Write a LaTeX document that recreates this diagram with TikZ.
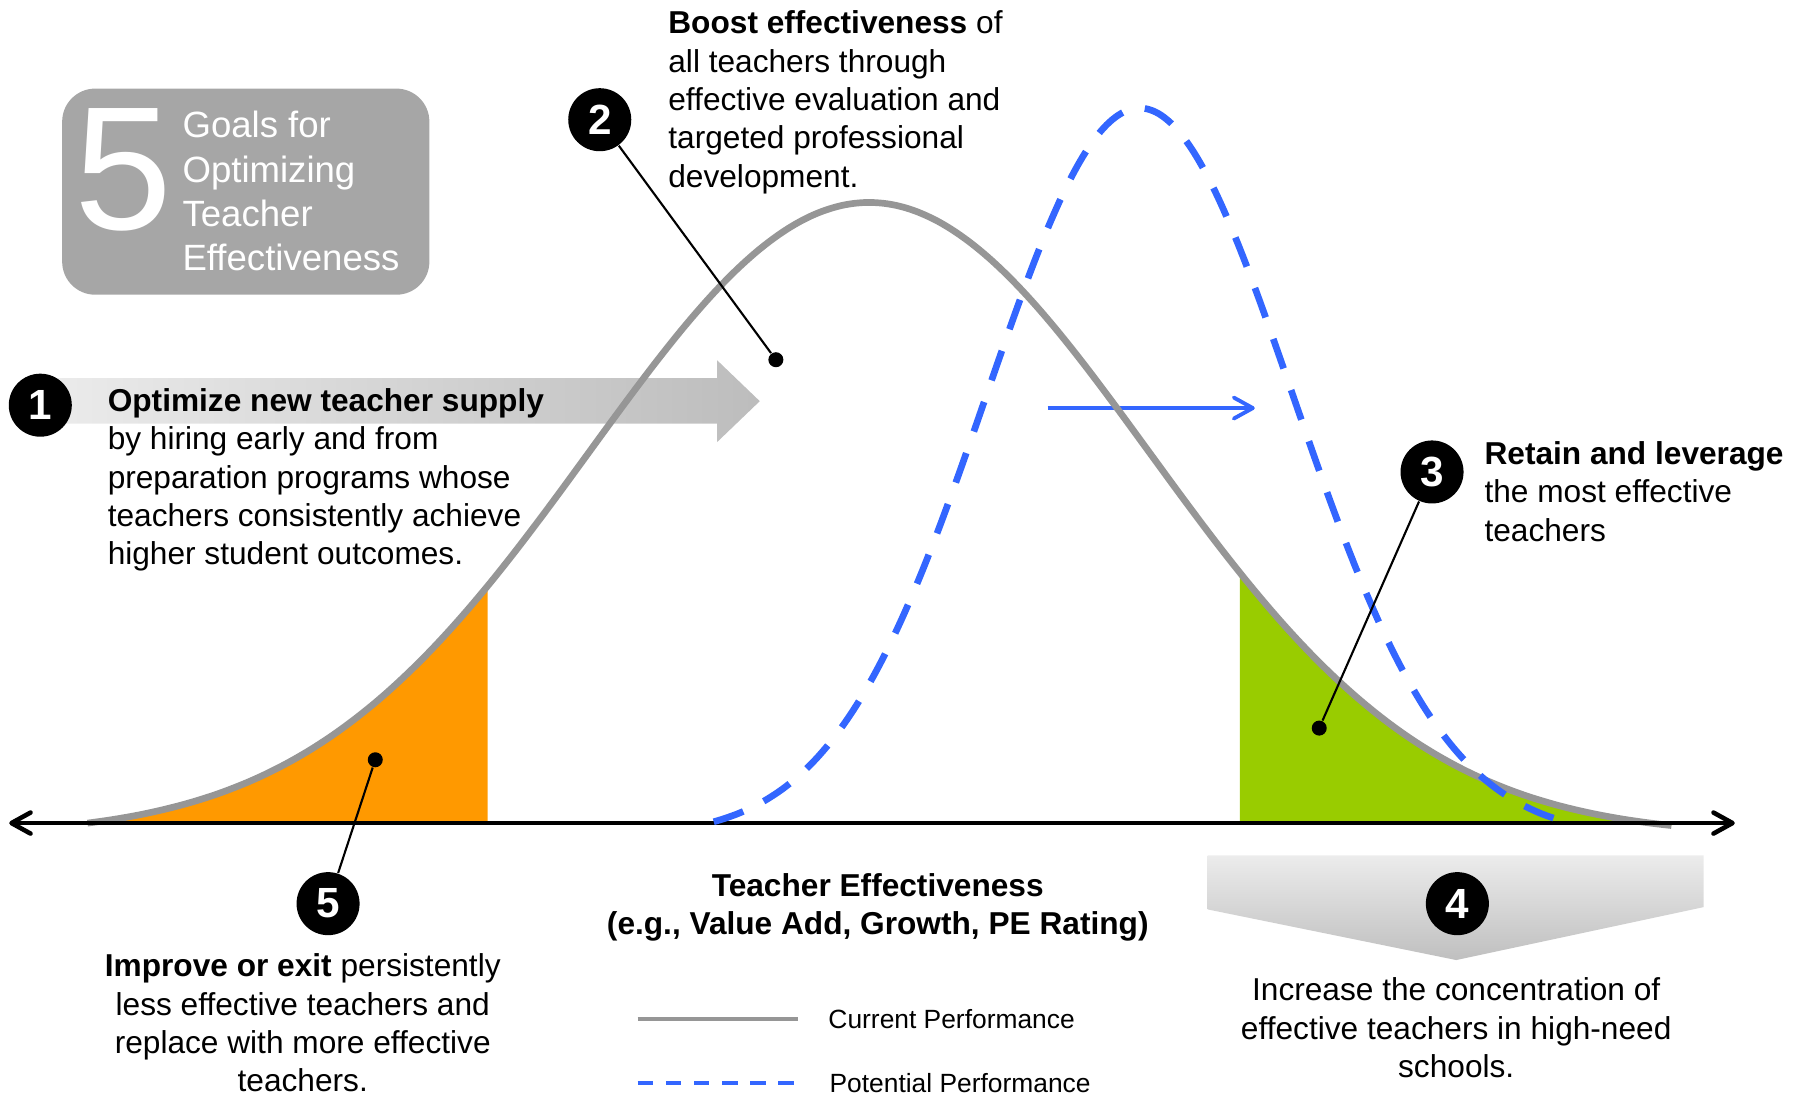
\documentclass[tikz,border=0pt]{standalone}
\usepackage{fontspec}
\setmainfont{Liberation Sans}
\usetikzlibrary{positioning}
\usetikzlibrary{arrows.meta}

\definecolor{curgray}{RGB}{150,150,150}
\definecolor{potblue}{RGB}{51,102,255}
\definecolor{lowtail}{RGB}{255,153,0}
\definecolor{hightail}{RGB}{153,204,0}
\definecolor{titlegray}{RGB}{166,166,166}

\begin{document}
\begin{tikzpicture}[x=0.011512cm, y=-0.011512cm,
		declare function={cur(\x)=715-539*(exp(-0.5*((\x-755)/243)^2)-0.0202)/0.9798;
			pot(\x)=715-621*(exp(-0.5*((\x-990)/133)^2)-0.019)/0.981;},
		>={Straight Barb[length=1.9mm, width=2.1mm, round]},
		goal/.style={circle, fill=black, minimum size=0.63cm, inner sep=0pt,
			text=white, font=\fontsize{12}{12}\selectfont\bfseries},
		pin/.style={circle, fill=black, minimum size=0.15cm, inner sep=0pt},
		leader/.style={line width=0.6pt},
		blurb/.style={inner sep=0pt, font=\fontsize{9}{10.9}\selectfont},
		legtext/.style={inner sep=0pt, font=\fontsize{7.5}{9}\selectfont},
		current/.style={curgray, line width=1.9pt},
		potential/.style={potblue, line width=1.9pt, dash pattern=on 8.9pt off 6.5pt}
	]
	\useasboundingbox (0,0) rectangle (1568,951);
	
	% title box
	\node[fill=titlegray, rounded corners=0.33cm, minimum width=3.67cm,
		minimum height=2.06cm] (titlebox) at (213.5,166.5) {};
	\node[text=white, inner sep=0pt, font=\fontsize{50}{50}\selectfont] (bigfive) at (107,148) {5};
	\node[text=white, inner sep=0pt, anchor=north west, align=left,
		font=\fontsize{10.4}{12.6}\selectfont] (titletext) at (158,96)
		{Goals for\\Optimizing\\Teacher\\Effectiveness};
	
	% supply arrow
	\shade[left color=gray!15, right color=gray!52] (35,328.5) -- (623,328.5) -- (623,313)
		-- (660,348.5) -- (623,384) -- (623,368) -- (35,368) -- cycle;
	
	% tails
	\fill[lowtail] (76,715) -- plot[domain=76:423.5, samples=50] (\x,{cur(\x)}) -- (423.5,715) -- cycle;
	\fill[hightail] (1077,715) -- plot[domain=1077:1452, samples=50] (\x,{cur(\x)}) -- (1452,715) -- cycle;
	
	% shift
	\coordinate (shiftfrom) at (910,354.5);
	\coordinate (shiftto) at (1090,354.5);
	\draw[->, potblue, line width=1.1pt] (shiftfrom) -- (shiftto);
	
	% curves and axis
	\draw[current, line join=round] plot[domain=76:1452, samples=150, smooth] (\x,{cur(\x)});
	\coordinate (axleft) at (8,715);
	\coordinate (axright) at (1507,715);
	\draw[<->, line width=1.3pt] (axleft) -- (axright);
	\draw[potential] plot[domain=620:1368, samples=150, smooth] (\x,{pot(\x)});
	
	% goals
	\node[goal] (g1) at (35,352) {1};
	\node[goal] (g2) at (521,104) {2};
	\node[goal] (g3) at (1244,410) {3};
	\node[goal] (g5) at (285,785) {5};
	\node[pin] (p2) at (674,312.5) {};
	\node[pin] (p3) at (1146,632.5) {};
	\node[pin] (p5) at (326,660) {};
	\draw[leader] (g2) -- (p2);
	\draw[leader] (g3) -- (p3);
	\draw[leader] (g5) -- (p5);
	
	\shade[top color=gray!15, bottom color=gray!50] (1049,743) -- (1480,743) -- (1480,788)
		-- (1265,834) -- (1049,790) -- cycle;
	\node[goal] (g4) at (1266,785) {4};
	
	% texts
	\node[blurb, anchor=north west, align=left] (t1) at (93,337)
		{\textbf{Optimize new teacher supply}\\by hiring early and from\\preparation programs whose\\teachers consistently achieve\\higher student outcomes.};
	\node[blurb, anchor=north west, align=left] (t2) at (580,9)
		{\textbf{Boost effectiveness} of\\all teachers through\\effective evaluation and\\targeted professional\\development.};
	\node[blurb, anchor=north west, align=left] (t3) at (1289,383)
		{\textbf{Retain and leverage}\\the most effective\\teachers};
	\node[blurb, anchor=north, align=center] (t4) at (1265,849)
		{Increase the concentration of\\effective teachers in high-need\\schools.};
	\node[blurb, anchor=north, align=center] (t5) at (263,828)
		{\textbf{Improve or exit} persistently\\less effective teachers and\\replace with more effective\\teachers.};
	\node[blurb, anchor=north, align=center, font=\fontsize{9}{10.9}\selectfont\bfseries] (axtitle) at (762.5,758)
		{Teacher Effectiveness\\(e.g., Value Add, Growth, PE Rating)};
	
	% legend
	\coordinate (curA) at (554,885);
	\coordinate (curB) at (693,885);
	\draw[curgray, line width=1.1pt] (curA) -- (curB);
	\node[legtext, right=0.3cm of curB] (curlab) {Current Performance};
	\coordinate (potA) at (554,941);
	\coordinate (potB) at (694,941);
	\draw[potblue, line width=1.1pt, dash pattern=on 4.4pt off 3.6pt] (potA) -- (potB);
	\node[legtext, right=0.3cm of potB] (potlab) {Potential Performance};
\end{tikzpicture}
\end{document}
